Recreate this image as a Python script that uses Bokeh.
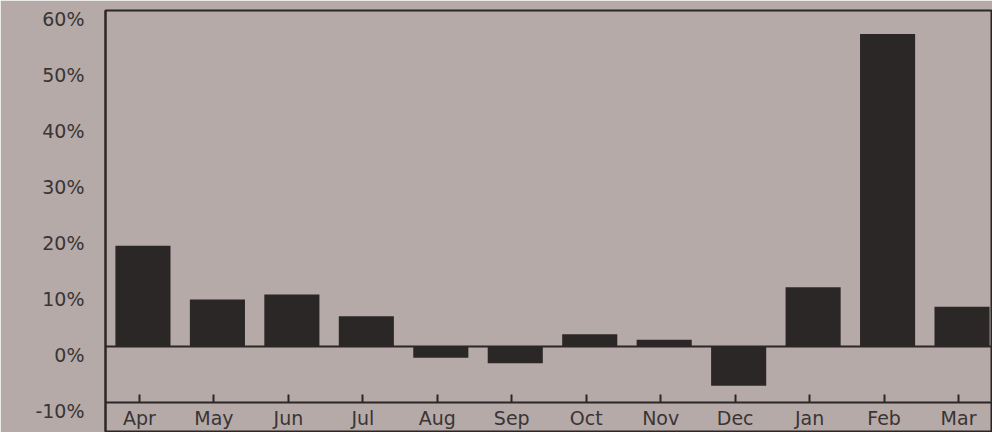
from bokeh.plotting import figure
from bokeh.models import Range1d, FactorRange, FixedTicker, Span, CustomJSTickFormatter, ColumnDataSource, LinearAxis
from bokeh.transform import dodge
from bokeh.embed import file_html
from bokeh.resources import INLINE

months = ["Apr", "May", "Jun", "Jul", "Aug", "Sep", "Oct", "Nov", "Dec", "Jan", "Feb", "Mar"]
returns = [18.0, 8.4, 9.3, 5.4, -2.0, -3.0, 2.2, 1.2, -7.0, 10.6, 55.8, 7.1]
y_ticks = [-10, 0, 10, 20, 30, 40, 50, 60]

BG = "#b5aaa8"
INK = "#2c2727"
TXT = "#3a3434"
FONT = "DejaVu Sans"

Y0, Y1 = -15.18, 60
LABEL_SHIFT = 1.6

src = ColumnDataSource(data=dict(month=months, ret=returns))

p = figure(
    x_range=FactorRange(factors=months, range_padding=-0.044, range_padding_units="absolute"),
    y_range=Range1d(Y0, Y1),
    width=992, height=432,
    output_backend="svg", toolbar_location=None,
    min_border_left=105, min_border_right=0, min_border_top=10, min_border_bottom=1,
    background_fill_color=BG, border_fill_color=BG,
    outline_line_color=INK, outline_line_width=2,
    y_axis_location=None,
)
p.grid.visible = False
p.extra_y_ranges = {"labels": Range1d(Y0 + LABEL_SHIFT, Y1 + LABEL_SHIFT)}

p.vbar(x=dodge("month", 0.047, range=p.x_range), top="ret", bottom=0, width=0.74,
       source=src, fill_color=INK, line_color=None)
p.add_layout(Span(location=0, dimension="width", line_color=INK, line_width=2))

xa = p.xaxis[0]
xa.fixed_location = -10
xa.axis_line_color = INK
xa.axis_line_width = 2
xa.major_tick_in = 8
xa.major_tick_out = 0
xa.major_tick_line_color = INK
xa.major_tick_line_width = 2
xa.major_label_text_font = FONT
xa.major_label_text_font_size = "19px"
xa.major_label_text_color = TXT
xa.major_label_standoff = 5

ya = LinearAxis(y_range_name="labels")
ya.ticker = FixedTicker(ticks=y_ticks)
ya.formatter = CustomJSTickFormatter(code="return tick + '%';")
ya.axis_line_color = INK
ya.axis_line_width = 2
ya.major_tick_line_color = None
ya.minor_tick_line_color = None
ya.major_label_text_font = FONT
ya.major_label_text_font_size = "19px"
ya.major_label_text_color = TXT
ya.major_label_standoff = 15
p.add_layout(ya, "left")

html = file_html(p, INLINE)
html = html.replace("<body>", '<body style="margin:0;padding:0;background-color:%s;">' % BG, 1)
open("out.html", "w").write(html)
